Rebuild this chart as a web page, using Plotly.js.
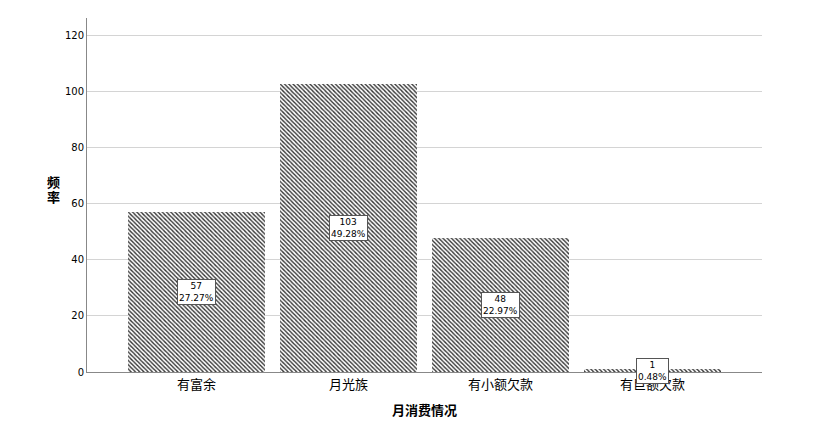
<!DOCTYPE html>
<html>
<head>
<meta charset="utf-8">
<script src="https://cdn.plot.ly/plotly-3.0.1.min.js"></script>
<style>body{margin:0;background:#fff}</style>
</head>
<body>
<div id="chart" style="width:819px;height:433px"></div>
<script>
// monthly spending categories and counts
const categories = ["有富余", "月光族", "有小额欠款", "有巨额欠款"];
const counts = [57, 103, 48, 1];
const percents = ["27.27%", "49.28%", "22.97%", "0.48%"];

const font = "DejaVu Sans, 'Noto Sans CJK SC', sans-serif";

let bars = {
    type: "bar",
    x: categories,
    y: counts,
    width: 0.9,
    marker: {
        color: "white",
        line: {width: 0},
        pattern: {shape: "\\", fgcolor: "#333", bgcolor: "white", size: 3, solidity: 0.45}
    },
    hoverinfo: "x+y"
};

// value + percent boxes in the middle of each bar
let labels = categories.map((c, i) => ({
    x: c,
    y: counts[i] / 2,
    text: counts[i] + "<br>" + percents[i],
    showarrow: false,
    font: {size: 9, color: "black", family: font},
    bgcolor: "white",
    bordercolor: "#555",
    borderwidth: 1,
    borderpad: 1
}));

// y title, one character per line
["频", "率"].forEach((ch, i) => labels.push({
    xref: "paper", yref: "paper",
    x: -0.062, y: 0.534 - i * 0.04,
    text: "<b>" + ch + "</b>",
    showarrow: false,
    font: {size: 13, color: "black", family: font}
}));

let layout = {
    width: 819,
    height: 433,
    margin: {l: 87, r: 57, t: 18, b: 61},
    paper_bgcolor: "white",
    plot_bgcolor: "white",
    showlegend: false,
    bargap: 0,
    font: {family: font},
    xaxis: {
        range: [-0.72, 3.72],
        showline: true,
        linecolor: "#888",
        linewidth: 1,
        ticks: "",
        tickfont: {size: 13, color: "black"},
        title: {text: "<b>月消费情况</b>", font: {size: 13, color: "black"}, standoff: 15}
    },
    yaxis: {
        range: [0, 126.4],
        tickvals: [0, 20, 40, 60, 80, 100, 120],
        showline: true,
        linecolor: "#888",
        linewidth: 1,
        gridcolor: "#d4d4d4",
        zeroline: false,
        ticks: "",
        ticklen: 0,
        tickfont: {size: 10, color: "black"}
    },
    annotations: labels
};

Plotly.newPlot("chart", [bars], layout, {displayModeBar: false, staticPlot: true});
</script>
</body>
</html>
